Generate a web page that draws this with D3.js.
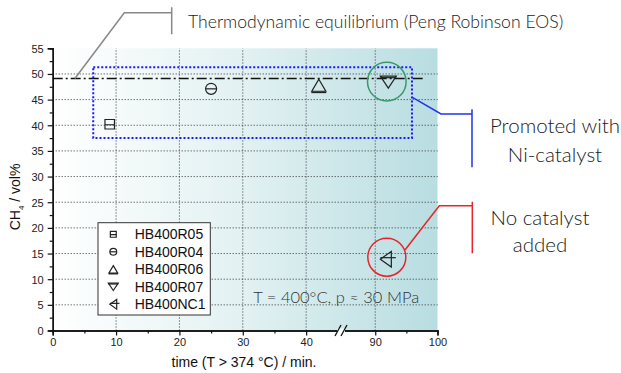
<!DOCTYPE html>
<html>
<head>
<meta charset="utf-8">
<script src="https://cdn.jsdelivr.net/npm/d3@7"></script>
<style>
  body { margin: 0; background: #fff; }
  svg { display: block; }
  .tick text { font-family: "Liberation Sans", Arial, sans-serif; font-size: 11px; fill: #222; }
  .note { font-family: Lato, "Open Sans", sans-serif; font-weight: 300; fill: #1a1a1a; }
</style>
</head>
<body>
<div id="chart"></div>
<script>
// series
const series = ["HB400R05", "HB400R04", "HB400R06", "HB400R07", "HB400NC1"];
const timeMin = [9, 25, 42, 92.1, 91.7];
const ch4Vol = [40.2, 47.1, 47.8, 48.4, 13.9];
const symbols = ["square", "circleBar", "triUp", "triDown", "triLeft"];

// axis ticks
const xTicks = [0, 10, 20, 30, 40, 90, 100];
const xMinor = [5, 15, 25, 35, 95];
const yTicks = [0, 5, 10, 15, 20, 25, 30, 35, 40, 45, 50, 55];
const yMinor = [2.5, 7.5, 12.5, 17.5, 22.5, 27.5, 32.5, 37.5, 42.5, 47.5, 52.5];
const xGrid = [10, 20, 30, 40, 90];
const yGrid = [5, 10, 15, 20, 25, 30, 35, 40, 45, 50];

// annotations
const eqCH4 = 49.1;
const eqTime = [0, 98];
const niBoxTime = [6.4, 95.9];
const niBoxCH4 = [37.5, 51.3];

const width = 621, height = 373;
const svg = d3.select("#chart").append("svg")
  .attr("width", width).attr("height", height);

// broken time axis: 0..45.5 | 84.5..100
const x = d3.scaleLinear().domain([0, 45.5, 84.5, 100]).range([52.7, 341, 341, 437.5]);
const y = d3.scaleLinear().domain([0, 55]).range([330.5, 48.3]);

// background gradient
const grad = svg.append("defs").append("linearGradient")
  .attr("id", "bg").attr("x1", "0%").attr("x2", "100%");
grad.append("stop").attr("offset", "0%").attr("stop-color", "#ffffff");
grad.append("stop").attr("offset", "50%").attr("stop-color", "#e2f1f2");
grad.append("stop").attr("offset", "100%").attr("stop-color", "#b8dde1");

svg.append("rect")
  .attr("x", x(0)).attr("y", y(55))
  .attr("width", x(100) - x(0)).attr("height", y(0) - y(55))
  .attr("fill", "url(#bg)");

// grid
svg.append("g").selectAll("line").data(yGrid).join("line")
  .attr("x1", x(0)).attr("x2", x(100))
  .attr("y1", d => y(d)).attr("y2", d => y(d))
  .attr("stroke", "#333").attr("stroke-width", 1).attr("stroke-dasharray", "1,2");
svg.append("g").selectAll("line").data(xGrid).join("line")
  .attr("x1", d => x(d)).attr("x2", d => x(d))
  .attr("y1", y(0)).attr("y2", y(55))
  .attr("stroke", "#333").attr("stroke-width", 1).attr("stroke-dasharray", "1,2");

// equilibrium line
svg.append("line")
  .attr("x1", x(eqTime[0])).attr("x2", x(eqTime[1]))
  .attr("y1", y(eqCH4)).attr("y2", y(eqCH4))
  .attr("stroke", "#111").attr("stroke-width", 1.6)
  .attr("stroke-dasharray", "10,3,2,3");

// Ni-catalyst box
svg.append("rect")
  .attr("x", x(niBoxTime[0])).attr("y", y(niBoxCH4[1]))
  .attr("width", x(niBoxTime[1]) - x(niBoxTime[0]))
  .attr("height", y(niBoxCH4[0]) - y(niBoxCH4[1]))
  .attr("fill", "none").attr("stroke", "#1a1aff").attr("stroke-width", 2)
  .attr("stroke-dasharray", "2,2");

// axes
svg.append("g").attr("transform", `translate(0,${y(0)})`)
  .call(d3.axisBottom(x).tickValues(xTicks).tickSize(5).tickPadding(3));
svg.append("g").attr("transform", `translate(0,${y(0)})`)
  .call(d3.axisBottom(x).tickValues(xMinor).tickSize(3).tickFormat(""));
const yAxis = svg.append("g").attr("transform", `translate(${x(0)},0)`)
  .call(d3.axisLeft(y).tickValues(yTicks).tickSize(5).tickPadding(4));
svg.append("g").attr("transform", `translate(${x(0)},0)`)
  .call(d3.axisLeft(y).tickValues(yMinor).tickSize(3).tickFormat(""));
svg.selectAll(".domain").attr("stroke", "#111").attr("stroke-width", 1.4);
svg.selectAll(".tick line").attr("stroke", "#111").attr("stroke-width", 1.2);
yAxis.selectAll(".tick text").attr("dy", "0.36em");

// axis break marks
const bx = x(45.5), by = y(0);
svg.append("rect").attr("x", bx - 4).attr("y", by - 2).attr("width", 8).attr("height", 4).attr("fill", "#fff");
[-3, 3].forEach(o => {
  svg.append("line")
    .attr("x1", bx + o - 3).attr("y1", by + 5.5)
    .attr("x2", bx + o + 3).attr("y2", by - 5.5)
    .attr("stroke", "#111").attr("stroke-width", 1.3);
});

// axis titles
svg.append("text")
  .attr("x", 244).attr("y", 367).attr("text-anchor", "middle")
  .style("font-family", "'Liberation Sans', Arial, sans-serif").style("font-size", "14px").attr("fill", "#111")
  .text("time (T > 374 °C) / min.");
const yt = svg.append("text")
  .attr("transform", "translate(20,197) rotate(-90)").attr("text-anchor", "middle")
  .style("font-family", "'Liberation Sans', Arial, sans-serif").style("font-size", "14px").attr("fill", "#111");
yt.append("tspan").text("CH");
yt.append("tspan").attr("dy", 4).style("font-size", "8px").text("4");
yt.append("tspan").attr("dy", -4).text(" / vol%");

// markers
function drawSym(g, type, s) {
  const path = (d) => g.append("path").attr("d", d)
    .attr("fill", "none").attr("stroke", "#222").attr("stroke-width", 1.2);
  if (type === "square") {
    const h = 4.75 * s;
    path(`M${-h},${-h}H${h}V${h}H${-h}Z M${-h},${0.5 * s}H${h}`);
  } else if (type === "circleBar") {
    const r = 5.5 * s;
    g.append("circle").attr("r", r).attr("fill", "none").attr("stroke", "#222").attr("stroke-width", 1.2);
    path(`M${-r},0H${r}`);
  } else if (type === "triUp") {
    path(`M0,${-6 * s}L${7 * s},${6 * s}L${-7 * s},${6 * s}Z`);
    path(`M${-7.5 * s},${7.2 * s}H${7.5 * s}`).attr("stroke-width", 1.4);
  } else if (type === "triDown") {
    path(`M0,${6 * s}L${8 * s},${-6 * s}L${-8 * s},${-6 * s}Z`);
    path(`M${-8 * s},${-4.5 * s}H${8 * s}`);
  } else if (type === "triLeft") {
    path(`M${-5.5 * s},0L${5.5 * s},${-7.8 * s}L${5.5 * s},${7.8 * s}Z`);
    path(`M${-5.5 * s},${-1.5 * s}H${10 * s}`);
  }
}

series.forEach((name, i) => {
  const g = svg.append("g").attr("transform", `translate(${x(timeMin[i])},${y(ch4Vol[i])})`);
  drawSym(g, symbols[i], 1);
});

// highlight circles
svg.append("circle").attr("cx", x(timeMin[3]) - 1.5).attr("cy", y(ch4Vol[3]) - 0.5).attr("r", 19.3)
  .attr("fill", "none").attr("stroke", "#3a9a6a").attr("stroke-width", 1.5);
svg.append("circle").attr("cx", x(timeMin[4]) + 1).attr("cy", y(ch4Vol[4]) - 2).attr("r", 19)
  .attr("fill", "none").attr("stroke", "#e8242a").attr("stroke-width", 1.5);

// legend
const lg = svg.append("g");
lg.append("rect").attr("x", 98).attr("y", 222.7).attr("width", 112.3).attr("height", 92.3)
  .attr("fill", "#fff").attr("stroke", "#333").attr("stroke-width", 1);
series.forEach((name, i) => {
  const cy = 234.3 + i * 17.5;
  const g = lg.append("g").attr("transform", `translate(113.3,${cy})`);
  drawSym(g, symbols[i], 0.62);
  lg.append("text").attr("x", 134.7).attr("y", cy + 5)
    .style("font-family", "'Liberation Sans', Arial, sans-serif").style("font-size", "14px").attr("fill", "#111")
    .text(name);
});

// conditions
svg.append("text").attr("class", "note").attr("x", 253.3).attr("y", 302.7)
  .style("font-size", "16.5px").style("fill", "#333")
  .text("T = 400°C, p ≈ 30 MPa");

// leaders and notes
svg.append("path")
  .attr("d", `M${x(3.5)},${y(eqCH4)}L124.3,12.7H171.7 M171.7,7.3V34.3`)
  .attr("fill", "none").attr("stroke", "#888").attr("stroke-width", 1.5);
svg.append("text").attr("class", "note").attr("x", 188).attr("y", 28.3)
  .style("font-size", "17.6px").text("Thermodynamic equilibrium (Peng Robinson EOS)");

svg.append("path")
  .attr("d", `M${x(niBoxTime[1])},${y(45.5)}L441,114H472 M472,109.3V167.3`)
  .attr("fill", "none").attr("stroke", "#2233ee").attr("stroke-width", 1.5);
svg.append("text").attr("class", "note").attr("x", 555).attr("y", 133.3).attr("text-anchor", "middle")
  .style("font-size", "20.5px").text("Promoted with");
svg.append("text").attr("class", "note").attr("x", 555).attr("y", 161.7).attr("text-anchor", "middle")
  .style("font-size", "20.5px").text("Ni-catalyst");

svg.append("path")
  .attr("d", `M405,250L439.3,205.7H472.3 M472.3,201.7V253.3`)
  .attr("fill", "none").attr("stroke", "#e8242a").attr("stroke-width", 1.5);
svg.append("text").attr("class", "note").attr("x", 540).attr("y", 225).attr("text-anchor", "middle")
  .style("font-size", "20.5px").text("No catalyst");
svg.append("text").attr("class", "note").attr("x", 540).attr("y", 252).attr("text-anchor", "middle")
  .style("font-size", "20.5px").text("added");
</script>
</body>
</html>
